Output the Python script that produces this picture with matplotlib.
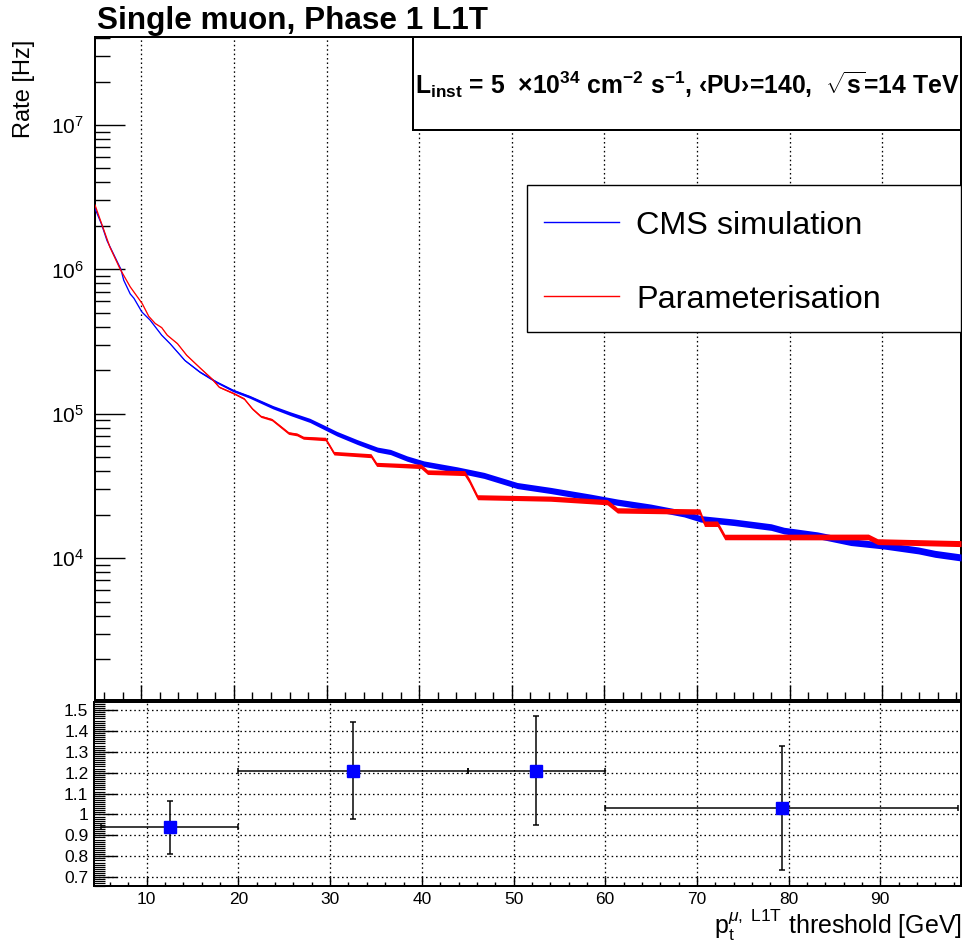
import numpy as np
import matplotlib
matplotlib.use("Agg")
import matplotlib.pyplot as plt
from matplotlib.ticker import MultipleLocator, LogLocator, NullFormatter, FuncFormatter
from matplotlib.patches import Rectangle

plt.rcParams['font.family'] = ['Liberation Sans', 'DejaVu Sans']
plt.rcParams['mathtext.fontset'] = 'custom'
plt.rcParams['mathtext.rm'] = 'Liberation Sans'
plt.rcParams['mathtext.it'] = 'Liberation Sans:italic'
plt.rcParams['mathtext.bf'] = 'Liberation Sans:bold'
plt.rcParams['mathtext.sf'] = 'Liberation Sans'

# ---- single-muon L1 trigger rate vs pT threshold ----
cms_pt = [5.0, 5.7, 6.3, 7.8, 8.1, 8.8, 9.2, 10.06, 10.95, 12.2, 13.1, 14.7, 16.3, 18.1,
          19.9, 21.7, 24.2, 26.1, 28.2, 30.0, 31.1, 33.3, 35.5, 36.9, 38.7, 40.5,
          44.1, 47.0, 50.6, 54.2, 58.5, 61.4, 65.0, 68.6, 70.4, 74.0, 78.0, 79.4,
          83.0, 86.6, 90.2, 93.9, 95.7, 98.5]
cms_rate = [2.64e6, 2.06e6, 1.58e6, 1.00e6, 8.41e5, 6.76e5, 6.31e5, 5.07e5, 4.45e5,
            3.50e5, 3.06e5, 2.34e5, 1.95e5, 1.66e5, 1.45e5, 1.31e5, 1.11e5, 1.00e5,
            8.99e4, 7.89e4, 7.28e4, 6.37e4, 5.64e4, 5.43e4, 4.89e4, 4.51e4, 4.09e4,
            3.74e4, 3.18e4, 2.94e4, 2.64e4, 2.44e4, 2.25e4, 2.03e4, 1.87e4, 1.77e4,
            1.64e4, 1.55e4, 1.44e4, 1.29e4, 1.22e4, 1.13e4, 1.07e4, 1.01e4]

param_pt = [5.0, 6.6, 7.73, 8.8, 10.1, 10.8, 11.5, 12.2, 12.8, 13.9, 14.9, 16.4, 17.6,
            18.4, 20.0, 21.1, 22.0, 22.9, 24.1, 25.0, 25.9, 26.8, 27.5, 29.9, 30.8,
            34.8, 35.4, 40.2, 40.9, 44.9, 45.4, 46.3, 54.2, 60.3, 61.4, 70.3, 70.8,
            72.2, 73.0, 88.5, 89.5, 98.5]
param_rate = [2.79e6, 1.43e6, 1.00e6, 7.57e5, 5.79e5, 4.73e5, 4.22e5, 3.95e5, 3.50e5,
              3.06e5, 2.54e5, 2.06e5, 1.75e5, 1.53e5, 1.38e5, 1.27e5, 1.08e5, 9.59e4,
              9.10e4, 8.18e4, 7.35e4, 7.19e4, 6.82e4, 6.68e4, 5.33e4, 5.12e4, 4.46e4,
              4.32e4, 3.94e4, 3.88e4, 3.45e4, 2.64e4, 2.58e4, 2.44e4, 2.14e4, 2.10e4,
              1.73e4, 1.73e4, 1.40e4, 1.40e4, 1.30e4, 1.26e4]

# ---- ratio CMS / parameterisation in threshold bins ----
bin_edges = [5.0, 20.0, 45.0, 60.0, 98.5]
ratio = [0.939, 1.210, 1.210, 1.033]
ratio_err_lo = [0.126, 0.231, 0.260, 0.298]
ratio_err_hi = [0.127, 0.234, 0.260, 0.296]

series_labels = ["CMS simulation", "Parameterisation"]
title = "Single muon, Phase 1 L1T"

PX = 0.72  # one pixel expressed in points (100 dpi)
W, H = 970, 952


def box(l, t, r, b):
    return [l / W, 1 - b / H, (r - l) / W, (b - t) / H]


fig = plt.figure(figsize=(W / 100, H / 100), dpi=100)
ax = fig.add_axes(box(95, 37, 961, 700))
axr = fig.add_axes(box(94.5, 701.5, 961, 885.5))

for a in (ax, axr):
    for s in a.spines.values():
        s.set_linewidth(2 * PX)
        s.set_color("black")

# ---------------- upper pad ----------------
ax.set_yscale("log")
ax.set_xlim(5.0, 98.5)
ax.set_ylim(1.04e3, 4.07e7)

PX_PER_DECADE = 144.2


def draw_rate(x, y, color, wx, wpx):
    x = np.asarray(x)
    y = np.asarray(y)
    half = np.interp(x, wx, wpx) / 2.0 / PX_PER_DECADE
    ax.fill_between(x, y * 10 ** (-half), y * 10 ** half, color=color, lw=0, zorder=3)
    ax.plot(x, y, color=color, lw=1.3 * PX, zorder=3)


draw_rate(cms_pt, cms_rate, "#0000ff", [5, 12, 20, 30, 45, 98.5], [0, 0.5, 2.5, 4.5, 6.0, 7.0])
draw_rate(param_pt, param_rate, "#ff0000", [5, 12, 20, 30, 45, 98.5], [0, 0.3, 1.5, 3.5, 5.0, 6.0])

ax.xaxis.set_major_locator(MultipleLocator(10))
ax.xaxis.set_minor_locator(MultipleLocator(2))
ax.yaxis.set_major_locator(LogLocator(base=10, numticks=20))
ax.yaxis.set_minor_locator(LogLocator(base=10, subs=np.arange(2, 10), numticks=20))
ax.yaxis.set_minor_formatter(NullFormatter())
ax.tick_params(axis="x", which="major", direction="in", length=15 * PX, width=1.4 * PX,
               labelbottom=False, top=False)
ax.tick_params(axis="x", which="minor", direction="in", length=8 * PX, width=1.4 * PX, top=False)
ax.tick_params(axis="y", which="major", direction="in", length=30 * PX, width=1.4 * PX,
               labelsize=15, pad=11 * PX, right=False)
ax.tick_params(axis="y", which="minor", direction="in", length=15 * PX, width=1.4 * PX, right=False)
ax.grid(True, axis="x", which="major", color="black", lw=1.3 * PX, ls=(0, (1.2, 2.2)))
ax.set_axisbelow(True)

# luminosity box
ax.add_patch(Rectangle((0.367, 0.8597), 0.633, 0.1403, transform=ax.transAxes,
                       facecolor="white", edgecolor="black", lw=2 * PX, zorder=5, clip_on=False))
info = (r"$\mathbf{L_{inst}}$ = 5  $\mathbf{\times}$10$^{\mathbf{34}}$ cm$^{\mathbf{-2}}$ "
        r"s$^{\mathbf{-1}}$, ‹PU›=140,  $\mathbf{\sqrt{s}}$=14 TeV")
ax.text(0.6836, 0.9276, info, transform=ax.transAxes, ha="center", va="center",
        fontsize=17.8, fontweight="bold", zorder=6)

# legend
ax.add_patch(Rectangle((0.4988, 0.555), 0.5012, 0.2218, transform=ax.transAxes,
                       facecolor="white", edgecolor="black", lw=1.4 * PX, zorder=5))
for (yl, yb), lab, col in zip([(0.7214, 0.7029), (0.6098, 0.5917)], series_labels,
                              ["#0000ff", "#ff0000"]):
    ax.plot([0.5185, 0.6051], [yl, yl], transform=ax.transAxes, color=col,
            lw=1.4 * PX, zorder=6)
    ax.text(0.6247, yb, lab, transform=ax.transAxes, ha="left", va="baseline",
            fontsize=23.3, zorder=6)

# ---------------- ratio pad ----------------
axr.set_xlim(4.3, 98.8)
axr.set_ylim(0.66, 1.541)
edges = np.asarray(bin_edges)
centres = 0.5 * (edges[:-1] + edges[1:])
xerr = [centres - edges[:-1], edges[1:] - centres]
axr.errorbar(centres, ratio, yerr=[ratio_err_lo, ratio_err_hi], xerr=xerr, fmt="s",
             color="#0000ff", ms=8.2, mec="#0000ff", ecolor="black",
             elinewidth=1.5 * PX, capsize=3.3 * PX, capthick=1.5 * PX, zorder=4)

axr.xaxis.set_major_locator(MultipleLocator(10))
axr.xaxis.set_minor_locator(MultipleLocator(2))
axr.yaxis.set_major_locator(MultipleLocator(0.1))
axr.yaxis.set_minor_locator(MultipleLocator(0.01))
axr.yaxis.set_major_formatter(FuncFormatter(lambda v, p: f"{v:g}"))
axr.tick_params(axis="x", which="major", direction="in", length=9 * PX, width=1.4 * PX,
                labelsize=12.5, pad=6 * PX, top=False)
axr.tick_params(axis="x", which="minor", direction="in", length=4.5 * PX, width=1.4 * PX, top=False)
axr.tick_params(axis="y", which="major", direction="in", length=23 * PX, width=1.4 * PX,
                labelsize=12.5, pad=6 * PX, right=False)
axr.tick_params(axis="y", which="minor", direction="in", length=11 * PX, width=1.2 * PX, right=False)
axr.grid(True, which="major", color="black", lw=1.3 * PX, ls=(0, (1.2, 2.2)))
axr.set_axisbelow(True)

# ---------------- texts ----------------
fig.text(97 / W, 1 - 29.5 / H, title, fontsize=22.7, fontweight="bold", ha="left", va="baseline")
fig.text(24 / W, 1 - 40 / H, "Rate [Hz]", rotation=90, ha="center", va="top", fontsize=17)
fig.text(962 / W, 1 - 934 / H,
         r"$\mathrm{p}_{\mathrm{t}}^{\mu,\ \mathrm{L1T}}$ threshold [GeV]",
         ha="right", va="baseline", fontsize=18)

fig.savefig("out.png", dpi=100, facecolor="white")
